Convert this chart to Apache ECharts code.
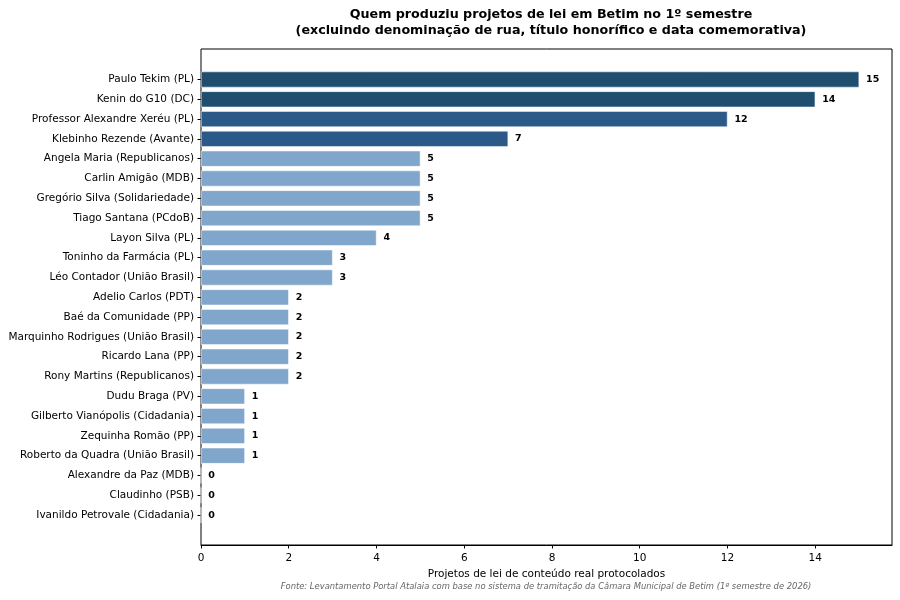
<!DOCTYPE html>
<html>
<head>
<meta charset="utf-8">
<script src="https://cdn.jsdelivr.net/npm/echarts@6/dist/echarts.min.js"></script>
<style>
  html, body { margin: 0; padding: 0; background: #fff; }
  #chart { width: 900px; height: 600px; }
</style>
</head>
<body>
<div id="chart"></div>
<script>
/* vereadores e quantidade de projetos */
var vereadores = [
    'Paulo Tekim (PL)', 'Kenin do G10 (DC)', 'Professor Alexandre Xeréu (PL)',
    'Klebinho Rezende (Avante)', 'Angela Maria (Republicanos)', 'Carlin Amigão (MDB)',
    'Gregório Silva (Solidariedade)', 'Tiago Santana (PCdoB)', 'Layon Silva (PL)',
    'Toninho da Farmácia (PL)', 'Léo Contador (União Brasil)', 'Adelio Carlos (PDT)',
    'Baé da Comunidade (PP)', 'Marquinho Rodrigues (União Brasil)', 'Ricardo Lana (PP)',
    'Rony Martins (Republicanos)', 'Dudu Braga (PV)', 'Gilberto Vianópolis (Cidadania)',
    'Zequinha Romão (PP)', 'Roberto da Quadra (União Brasil)', 'Alexandre da Paz (MDB)',
    'Claudinho (PSB)', 'Ivanildo Petrovale (Cidadania)'
];
var projetos = [15, 14, 12, 7, 5, 5, 5, 5, 4, 3, 3, 2, 2, 2, 2, 2, 1, 1, 1, 1, 0, 0, 0];
var xTicks = [0, 2, 4, 6, 8, 10, 12, 14];

var font = 'DejaVu Sans';

// cor por faixa de posicao
function corBarra(i) {
    if (i < 2) return '#1f4e6f';
    if (i < 4) return '#2b5a88';
    return '#80a6cb';
}

var option = {
    animation: false,
    title: {
        text: 'Quem produziu projetos de lei em Betim no 1º semestre\n(excluindo denominação de rua, título honorífico e data comemorativa)',
        left: 546,
        textAlign: 'center',
        top: 2,
        textStyle: { fontFamily: font, fontSize: 12.7, fontWeight: 'bold', color: '#000', lineHeight: 16 }
    },
    graphic: [{
        type: 'text',
        x: 546,
        y: 587,
        style: {
            text: 'Fonte: Levantamento Portal Atalaia com base no sistema de tramitação da Câmara Municipal de Betim (1º semestre de 2026)',
            fontFamily: font, fontSize: 8.4, fontStyle: 'italic', fill: '#666',
            textAlign: 'center', textVerticalAlign: 'middle'
        }
    }],
    grid: [
        { left: 201, right: 8, top: 69.6, height: 455.4, containLabel: false },
        { left: 201, right: 8, top: 49, height: 496, show: true, borderColor: '#000', borderWidth: 1, backgroundColor: 'transparent', z: 0 }
    ],
    xAxis: [
        {
            gridIndex: 0,
            type: 'value',
            min: 0,
            max: 15.75,
            interval: 2,
            offset: 20,
            splitLine: { show: false },
            axisLine: { show: true, onZero: false, lineStyle: { color: '#000' } },
            axisTick: { show: true, length: 3.5, customValues: xTicks, lineStyle: { color: '#000' } },
            axisLabel: {
                fontFamily: font, fontSize: 10.5, color: '#000', margin: 8,
                customValues: xTicks
            },
            name: 'Projetos de lei de conteúdo real protocolados',
            nameLocation: 'middle',
            nameGap: 22,
            nameTextStyle: { fontFamily: font, fontSize: 10.5, color: '#000' }
        },
        { gridIndex: 1, type: 'value', show: false, min: 0, max: 1 }
    ],
    yAxis: [
        {
            gridIndex: 0,
            type: 'category',
            inverse: true,
            data: vereadores,
            axisLine: { show: false },
            axisTick: { show: true, alignWithLabel: true, length: 3.5, lineStyle: { color: '#000' } },
            axisLabel: { fontFamily: font, fontSize: 10.5, color: '#000', margin: 7 }
        },
        { gridIndex: 1, type: 'value', show: false, min: 0, max: 1 }
    ],
    series: [{
        name: 'Projetos',
        type: 'bar',
        xAxisIndex: 0,
        yAxisIndex: 0,
        barWidth: '80%',
        data: projetos,
        itemStyle: {
            color: function (p) { return corBarra(p.dataIndex); },
            borderColor: '#fff',
            borderWidth: 0.5
        },
        label: {
            show: true,
            position: 'right',
            distance: 7,
            fontFamily: font,
            fontSize: 9.5,
            fontWeight: 'bold',
            color: '#000'
        }
    }]
};

echarts.init(document.getElementById('chart')).setOption(option);
</script>
</body>
</html>
